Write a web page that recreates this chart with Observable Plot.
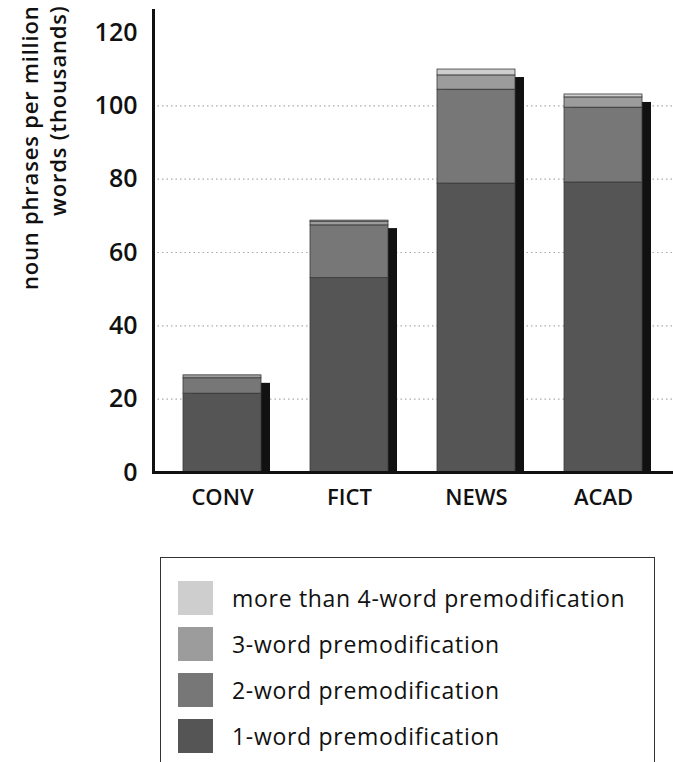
<!DOCTYPE html>
<html>
<head>
<meta charset="utf-8">
<script src="https://cdn.jsdelivr.net/npm/d3@7"></script>
<script src="https://cdn.jsdelivr.net/npm/@observablehq/plot@0.6"></script>
<style>
  body { margin: 0; background: #fff; font-family: "Open Sans", sans-serif; }
  #chart { position: relative; width: 673px; }
  #legend { margin-left: 160px; margin-top: 27px; width: 495px; height: 220px;
    border-top: 1.5px solid #333; border-left: 1.5px solid #333; border-right: 1.5px solid #333;
    box-sizing: border-box; padding-top: 17px; }
  .row { display: flex; align-items: center; height: 46px; }
  .sw { width: 35px; height: 34px; margin-left: 17px; margin-right: 19px; }
  .lab { font-size: 23px; color: #111; font-weight: 500; letter-spacing: 0.7px; }
  .ytitle text { letter-spacing: 0.8px; }
</style>
</head>
<body>
<div id="chart"></div>
<div id="legend"></div>
<script>
const categories = ["CONV", "FICT", "NEWS", "ACAD"];
const seriesNames = ["1-word premodification", "2-word premodification", "3-word premodification", "more than 4-word premodification"];
const oneWord   = [21.5, 53.0, 78.8, 79.1];
const twoWord   = [4.2, 14.4, 25.6, 20.4];
const threeWord = [0.8, 1.0, 3.9, 2.8];
const moreThan4 = [0.0, 0.3, 1.6, 0.8];
const yTicks = [0, 20, 40, 60, 80, 100, 120];
const seriesColors = ["#555555", "#777777", "#9c9c9c", "#cecece"];
const yTitle = ["noun phrases per million", "words (thousands)"];

const seriesValues = [oneWord, twoWord, threeWord, moreThan4];
const data = [];
categories.forEach((c, i) => {
  seriesNames.forEach((s, j) => data.push({cat: c, series: s, value: seriesValues[j][i]}));
});
const totals = categories.map((c, i) => ({cat: c, total: seriesValues.reduce((a, arr) => a + arr[i], 0)}));

const chart = Plot.plot({
  width: 673,
  height: 530,
  marginLeft: 153,
  marginRight: 0,
  marginTop: 10,
  marginBottom: 58,
  style: {fontFamily: "Open Sans, sans-serif", background: "white", color: "#111"},
  x: {domain: categories, paddingInner: 0.385, paddingOuter: 0.23, label: null},
  y: {domain: [0, 126], label: null},
  color: {domain: seriesNames, range: seriesColors},
  marks: [
    Plot.gridY(yTicks.filter(d => d > 0 && d < 120), {stroke: "#888", strokeOpacity: 0.7, strokeDasharray: "1.5,3", strokeWidth: 1.2}),
    Plot.barY(totals, {x: "cat", y: "total", fill: "#111", dx: 9, dy: 8, clip: true}),
    Plot.barY(data, {x: "cat", y: "value", fill: "series", stroke: "#3a3a3a", strokeWidth: 0.8}),
    Plot.ruleY([0], {stroke: "#111", strokeWidth: 3}),
    Plot.frame({anchor: "left", stroke: "#111", strokeWidth: 3}),
    Plot.axisY(yTicks, {tickSize: 0, tickPadding: 16, fontSize: 25, fontWeight: 600, label: null}),
    Plot.axisX({tickSize: 0, tickPadding: 17, fontSize: 22, fontWeight: 600, label: null}),
    Plot.text([yTitle[0]], {className: "ytitle", frameAnchor: "top-left", dx: -123, dy: -5, rotate: -90, textAnchor: "end", lineAnchor: "middle", fontSize: 22, fontWeight: 600}),
    Plot.text([yTitle[1]], {className: "ytitle", frameAnchor: "top-left", dx: -95, dy: -5, rotate: -90, textAnchor: "end", lineAnchor: "middle", fontSize: 22, fontWeight: 600})
  ]
});
document.getElementById("chart").appendChild(chart);

const legend = document.getElementById("legend");
for (let j = seriesNames.length - 1; j >= 0; j--) {
  const row = document.createElement("div");
  row.className = "row";
  const sw = document.createElement("div");
  sw.className = "sw";
  sw.style.background = seriesColors[j];
  const lab = document.createElement("div");
  lab.className = "lab";
  lab.textContent = seriesNames[j];
  row.appendChild(sw);
  row.appendChild(lab);
  legend.appendChild(row);
}
</script>
</body>
</html>
